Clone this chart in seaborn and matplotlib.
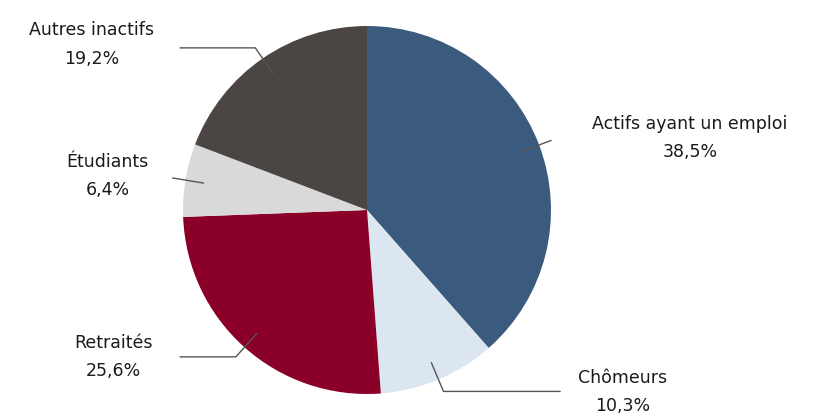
import numpy as np
import matplotlib
matplotlib.use("Agg")
import matplotlib.pyplot as plt
import seaborn as sns

# Data
categories = ['Actifs ayant un emploi', 'Chômeurs', 'Retraités', 'Étudiants', 'Autres inactifs']
shares = [38.5, 10.3, 25.6, 6.4, 19.2]
colors = ['#3a5b7e', '#dce6f1', '#8b0028', '#d9d9d9', '#4b4543']

# label layout (data units, pie radius = 1)
text_pos = [(1.755, 0.39), (1.39, -0.99), (-1.38, -0.80), (-1.41, 0.185), (-1.495, 0.90)]
line_end_x = [None, 1.05, -1.016, None, -1.016]

sns.set_theme(style="white")
plt.rcParams['font.family'] = ['DejaVu Sans']

fig = plt.figure(figsize=(8.24, 4.15), dpi=100)
ax = fig.add_axes([0, 0, 1, 1])

wedges, _ = ax.pie(shares, colors=colors, startangle=90, counterclock=False,
                   radius=1, center=(0, 0), frame=False,
                   wedgeprops={'linewidth': 0})

for w, lab, val, tp, xe in zip(wedges, categories, shares, text_pos, line_end_x):
    ang = np.deg2rad((w.theta1 + w.theta2) / 2)
    x0, y0 = 0.9 * np.cos(ang), 0.9 * np.sin(ang)
    x1, y1 = 1.07 * np.cos(ang), 1.07 * np.sin(ang)
    xs, ys = [x0, x1], [y0, y1]
    if xe is not None:
        xs.append(xe)
        ys.append(y1)
    ax.plot(xs, ys, color='#555555', lw=1)
    txt = lab + '\n' + f"{val:.1f}".replace('.', ',') + '%'
    ax.text(tp[0], tp[1], txt, ha='center', va='center', fontsize=12.5,
            color='#1a1a1a', linespacing=1.75)

ax.set_xlim(-367 / 184, (824 - 367) / 184)
ax.set_ylim(-205 / 184, 210 / 184)
ax.set_aspect('auto')
ax.axis('off')

plt.savefig('out.png', dpi=100)
